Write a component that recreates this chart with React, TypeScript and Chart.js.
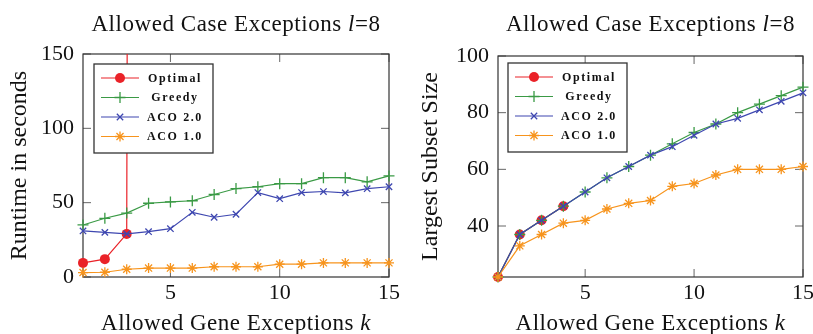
import React, { useEffect, useRef } from "react";
import { Chart, registerables } from "chart.js";

Chart.register(...registerables);

const FONT = '"Liberation Serif", "Times New Roman", serif';

// ---------- data ----------
const kValues = [1, 2, 3, 4, 5, 6, 7, 8, 9, 10, 11, 12, 13, 14, 15];
const xTickValues = [5, 10, 15];
const seriesLabels = ["Optimal", "Greedy", "ACO 2.0", "ACO 1.0"];

const runtimeOptimal = [9.5, 12, 29, 6000];
const runtimeGreedy = [35, 39.5, 43, 49.6, 50.5, 51.3, 55.5, 59.5, 60.7, 62.8, 62.8, 66.8, 66.8, 64, 68];
const runtimeAco2 = [31, 30, 29, 30.5, 32.5, 43.5, 40.2, 42.2, 56.8, 52.7, 56.8, 57.5, 56.6, 59.4, 60.7];
const runtimeAco1 = [3, 3.2, 5.2, 6, 6, 6, 6.9, 6.9, 6.9, 8.6, 8.6, 9.5, 9.5, 9.5, 9.5];
const runtimeTicks = [0, 50, 100, 150];

const sizeOptimal = [22, 37, 42, 47];
const sizeGreedy = [22, 37, 42, 47, 52, 57, 61, 65, 69, 73, 76, 80, 83, 86, 89];
const sizeAco2 = [22, 37, 42, 47, 52, 57, 61, 65, 68, 72, 76, 78, 81, 84, 87];
const sizeAco1 = [22, 33, 37, 41, 42, 46, 48, 49, 54, 55, 58, 60, 60, 60, 61];
const sizeTicks = [40, 60, 80, 100];

const titleParts: [string, boolean][] = [["Allowed Case Exceptions ", false], ["l", true], ["=8", false]];
const xTitleParts: [string, boolean][] = [["Allowed Gene Exceptions ", false], ["k", true]];

// ---------- styles ----------
const COLORS = ["#ea2228", "#3a9a45", "#3e47b0", "#f7941d"];
const STYLES = ["circle", "cross", "crossRot", "star"];
const RADII = [5, 5.5, 4.5, 5];

function drawMarker(ctx: CanvasRenderingContext2D, style: string, x: number, y: number, r: number, color: string) {
  ctx.save();
  ctx.strokeStyle = color;
  ctx.fillStyle = color;
  ctx.lineWidth = 1.3;
  ctx.beginPath();
  if (style === "circle") {
    ctx.arc(x, y, r, 0, Math.PI * 2);
    ctx.fill();
  } else {
    const d = r * Math.SQRT1_2;
    if (style === "cross" || style === "star") {
      ctx.moveTo(x, y - r); ctx.lineTo(x, y + r);
      ctx.moveTo(x - r, y); ctx.lineTo(x + r, y);
    }
    if (style === "crossRot" || style === "star") {
      ctx.moveTo(x - d, y - d); ctx.lineTo(x + d, y + d);
      ctx.moveTo(x - d, y + d); ctx.lineTo(x + d, y - d);
    }
    ctx.stroke();
  }
  ctx.restore();
}

function drawParts(ctx: any, parts: [string, boolean][], cx: number, baseline: number, size: number, spacing: number) {
  ctx.save();
  ctx.letterSpacing = spacing + "px";
  ctx.fillStyle = "#111";
  ctx.textAlign = "left";
  ctx.textBaseline = "alphabetic";
  const fonts = parts.map(([, it]) => `${it ? "italic " : ""}${size}px ${FONT}`);
  const widths: number[] = [];
  let total = 0;
  parts.forEach(([t], i) => {
    ctx.font = fonts[i];
    const w = ctx.measureText(t).width;
    widths.push(w);
    total += w;
  });
  let x = cx - total / 2;
  parts.forEach(([t], i) => {
    ctx.font = fonts[i];
    ctx.fillText(t, x, baseline);
    x += widths[i];
  });
  ctx.restore();
}

const decorPlugin = {
  id: "decor",
  beforeDatasetsDraw(chart: any, _args: any, opts: any) {
    const { ctx, chartArea: a, scales } = chart;
    const L = 8;
    ctx.save();
    ctx.strokeStyle = "#666";
    ctx.lineWidth = 1;
    ctx.beginPath();
    for (const v of opts.xTicks) {
      const px = scales.x.getPixelForValue(v);
      ctx.moveTo(px, a.bottom); ctx.lineTo(px, a.bottom - L);
      ctx.moveTo(px, a.top); ctx.lineTo(px, a.top + L);
    }
    for (const v of opts.yTicks) {
      const py = scales.y.getPixelForValue(v);
      ctx.moveTo(a.left, py); ctx.lineTo(a.left + L, py);
      ctx.moveTo(a.right, py); ctx.lineTo(a.right - L, py);
    }
    ctx.stroke();
    ctx.strokeStyle = "#333";
    ctx.lineWidth = 1.2;
    ctx.strokeRect(a.left, a.top, a.right - a.left, a.bottom - a.top);
    ctx.restore();
  },
  afterDatasetsDraw(chart: any, _args: any, opts: any) {
    const { ctx, chartArea: a } = chart;
    // legend
    const bx = a.left + opts.legendDx;
    const by = a.top + opts.legendDy;
    const bw = 119, bh = 89;
    ctx.save();
    ctx.fillStyle = "#fff";
    ctx.fillRect(bx, by, bw, bh);
    ctx.strokeStyle = "#333";
    ctx.lineWidth = 1.3;
    ctx.strokeRect(bx, by, bw, bh);
    chart.data.datasets.forEach((ds: any, i: number) => {
      const ry = by + 14 + i * 19.5;
      ctx.strokeStyle = ds.borderColor;
      ctx.lineWidth = 1.2;
      ctx.beginPath();
      ctx.moveTo(bx + 7, ry);
      ctx.lineTo(bx + 45, ry);
      ctx.stroke();
      drawMarker(ctx, ds.pointStyle, bx + 26, ry, ds.pointRadius, ds.borderColor);
      ctx.save();
      (ctx as any).letterSpacing = "1.6px";
      ctx.font = `bold 12px ${FONT}`;
      ctx.fillStyle = "#111";
      ctx.textAlign = "center";
      ctx.textBaseline = "middle";
      ctx.fillText(ds.label, bx + 81, ry + 0.5);
      ctx.restore();
    });
    ctx.restore();
  },
  afterDraw(chart: any) {
    const { ctx, chartArea: a } = chart;
    const cx = (a.left + a.right) / 2;
    drawParts(ctx, titleParts, cx, 30.5, 23, 0.55);
    drawParts(ctx, xTitleParts, cx, 330, 23, 0.5);
  },
};

interface Spec {
  series: number[][];
  clipFirst: boolean;
  yTitle: string;
  yMin: number;
  yMax: number;
  yTicks: number[];
  padTop: number;
  padRight: number;
  yWidth: number;
  yTitlePad: number;
  legendDx: number;
  legendDy: number;
}

function makeConfig(spec: Spec): any {
  const datasets = spec.series.map((vals, i) => ({
    label: seriesLabels[i],
    data: vals.map((v, j) => ({ x: kValues[j], y: v })),
    borderColor: COLORS[i],
    backgroundColor: COLORS[i],
    borderWidth: 1.2,
    pointStyle: STYLES[i],
    pointRadius: RADII[i],
    pointBorderWidth: i === 0 ? 0 : 1.3,
    pointBackgroundColor: COLORS[i],
    pointBorderColor: COLORS[i],
    tension: 0,
    order: 4 - i,
    clip: i === 0 && spec.clipFirst ? { left: 12, top: 0, right: 12, bottom: 12 } : false,
  }));
  return {
    type: "line",
    data: { datasets },
    plugins: [decorPlugin],
    options: {
      animation: false,
      responsive: false,
      devicePixelRatio: 1,
      events: [],
      layout: { padding: { top: spec.padTop, right: spec.padRight, left: 0, bottom: 0 } },
      plugins: {
        legend: { display: false },
        title: { display: false },
        tooltip: { enabled: false },
        decor: { xTicks: xTickValues, yTicks: spec.yTicks, legendDx: spec.legendDx, legendDy: spec.legendDy },
      },
      scales: {
        x: {
          type: "linear",
          min: 1,
          max: 15,
          grid: { display: false, drawTicks: false },
          border: { display: false },
          afterBuildTicks: (s: any) => { s.ticks = xTickValues.map((v) => ({ value: v })); },
          afterFit: (s: any) => { s.height = 57; },
          ticks: { autoSkip: false, maxRotation: 0, padding: 3, color: "#111", font: { family: FONT, size: 22 } },
        },
        y: {
          type: "linear",
          min: spec.yMin,
          max: spec.yMax,
          grid: { display: false, drawTicks: false },
          border: { display: false },
          afterBuildTicks: (s: any) => { s.ticks = spec.yTicks.map((v) => ({ value: v })); },
          afterFit: (s: any) => { s.width = spec.yWidth; },
          ticks: { autoSkip: false, padding: 9, color: "#111", font: { family: FONT, size: 22 } },
          title: {
            display: true,
            text: spec.yTitle,
            color: "#111",
            font: { family: FONT, size: 24 },
            padding: { top: spec.yTitlePad, bottom: 0 },
          },
        },
      },
    },
  };
}

const leftSpec: Spec = {
  series: [runtimeOptimal, runtimeGreedy, runtimeAco2, runtimeAco1],
  clipFirst: true,
  yTitle: "Runtime in seconds",
  yMin: 0,
  yMax: 150,
  yTicks: runtimeTicks,
  padTop: 54,
  padRight: 17,
  yWidth: 83,
  yTitlePad: 5.6,
  legendDx: 11,
  legendDy: 10,
};

const rightSpec: Spec = {
  series: [sizeOptimal, sizeGreedy, sizeAco2, sizeAco1],
  clipFirst: false,
  yTitle: "Largest Subset Size",
  yMin: 22,
  yMax: 100,
  yTicks: sizeTicks,
  padTop: 56,
  padRight: 33,
  yWidth: 92,
  yTitlePad: 9.9,
  legendDx: 10,
  legendDy: 7,
};

export default function App() {
  const leftRef = useRef<HTMLCanvasElement>(null);
  const rightRef = useRef<HTMLCanvasElement>(null);
  useEffect(() => {
    const c1 = new Chart(leftRef.current!, makeConfig(leftSpec));
    const c2 = new Chart(rightRef.current!, makeConfig(rightSpec));
    return () => {
      c1.destroy();
      c2.destroy();
    };
  }, []);
  return (
    <div style={{ position: "fixed", left: 0, top: 0, width: 813, height: 334, overflow: "hidden", background: "#fff" }}>
      <canvas ref={leftRef} width={406} height={334} style={{ position: "absolute", left: 0, top: 0 }} />
      <canvas ref={rightRef} width={430} height={334} style={{ position: "absolute", left: 406, top: 0 }} />
    </div>
  );
}
